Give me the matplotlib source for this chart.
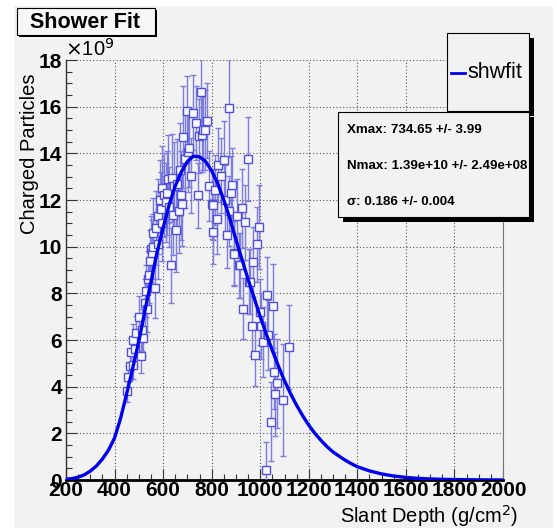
import matplotlib
matplotlib.use("Agg")
import matplotlib.pyplot as plt
from matplotlib.patches import Rectangle

# ── data ────────────────────────────────────────────────────────────────────
depth = [453, 457, 464, 467, 475, 478, 485, 490, 502, 508, 512, 519, 525, 530,
         535, 539, 543, 546, 550, 553, 557, 560, 567, 572, 577, 581, 586, 591,
         595, 597, 604, 610, 615, 620, 626, 631, 636, 640, 645, 654, 657, 665,
         668, 675, 677, 683, 691, 700, 704, 707, 714, 722, 735, 743, 747, 757,
         762, 766, 774, 780, 791, 800, 805, 807, 814, 820, 827, 838, 849, 855,
         863, 871, 873, 880, 883, 890, 894, 904, 911, 918, 925, 931, 938, 948,
         952, 959, 965, 972, 977, 986, 993, 1000, 1005, 1012, 1023, 1028, 1034,
         1044, 1052, 1055, 1062, 1071, 1094, 1117]
particles = [3.8, 4.4, 4.9, 5.5, 4.95, 6.0, 5.6, 6.3, 7.0, 5.3, 6.45, 6.1, 7.6, 8.1,
             7.35, 8.6, 8.8, 9.4, 9.9, 9.75, 10.6, 10.0, 8.25, 10.8, 11.3, 10.1, 12.0, 11.6,
             11.0, 12.5, 12.2, 11.9, 12.3, 12.9, 11.7, 9.2, 12.95, 11.35, 12.6, 10.7, 12.7, 11.55,
             13.3, 12.2, 11.85, 14.7, 13.75, 15.8, 14.05, 14.25, 13.05, 15.75, 15.3, 12.2, 14.75, 16.65,
             14.8, 15.0, 15.0, 15.4, 12.6, 11.85, 11.8, 10.65, 12.45, 11.2, 13.5, 13.05, 13.7, 12.0,
             10.5, 11.55, 15.95, 12.3, 12.65, 9.75, 9.7, 11.3, 9.2, 9.2, 11.65, 7.35, 11.05, 13.75,
             8.5, 8.5, 6.6, 9.35, 5.35, 10.1, 10.85, 7.2, 6.6, 5.9, 0.45, 7.95, 6.2,
             2.5, 7.45, 4.65, 3.7, 4.15, 3.45, 5.7]
errors = [0.45, 0.5, 0.55, 0.6, 0.6, 0.7, 0.7, 0.75, 0.9, 0.7, 0.9, 0.8, 1.0, 1.1,
          1.0, 1.2, 1.2, 1.3, 1.4, 1.4, 1.5, 1.4, 1.3, 1.6, 1.6, 1.5, 1.7, 1.6,
          1.6, 1.8, 1.8, 1.7, 1.8, 1.9, 1.7, 1.6, 1.9, 1.7, 1.9, 1.8, 1.9, 1.8,
          2.0, 1.9, 1.8, 2.2, 2.1, 1.5, 1.7, 1.7, 1.6, 1.6, 1.6, 1.4, 1.6, 1.9,
          1.6, 1.7, 1.7, 1.6, 1.5, 1.5, 1.5, 1.4, 1.5, 1.5, 1.6, 1.6, 1.7, 1.5,
          1.4, 1.5, 2.1, 1.6, 1.6, 1.4, 1.4, 1.6, 1.4, 1.4, 1.7, 1.3, 1.6, 1.8,
          1.4, 1.4, 1.3, 1.5, 1.3, 1.6, 1.8, 1.4, 1.4, 1.5, 1.2, 1.6, 1.5,
          1.7, 1.8, 1.6, 1.8, 1.9, 2.4, 1.8]

fit_x = [200, 225, 250, 275, 300, 325, 350, 375, 400, 425, 450, 475, 500, 525,
         550, 575, 600, 625, 650, 675, 700, 725, 750, 775, 800, 825, 850, 875,
         900, 925, 950, 975, 1000, 1025, 1050, 1075, 1100, 1125, 1150, 1175,
         1200, 1225, 1250, 1275, 1300, 1325, 1350, 1375, 1400, 1450, 1500, 1550,
         1600, 1650, 1700, 1750, 1800, 1850, 1900, 1950, 2000]
fit_y = [0.03, 0.06, 0.12, 0.22, 0.38, 0.6, 0.9, 1.28, 1.8, 2.65, 3.7, 4.8, 5.95, 7.25,
         8.5, 9.75, 10.8, 11.8, 12.6, 13.2, 13.65, 13.88, 13.85, 13.65, 13.25, 12.7, 12.0, 11.2,
         10.3, 9.45, 8.6, 7.8, 7.0, 6.25, 5.55, 4.88, 4.25, 3.7, 3.2, 2.75,
         2.35, 2.0, 1.7, 1.43, 1.2, 1.02, 0.85, 0.7, 0.57, 0.39, 0.26, 0.17,
         0.11, 0.07, 0.045, 0.028, 0.018, 0.011, 0.007, 0.004, 0.003]

stats_lines = ["Xmax: 734.65 +/- 3.99",
               "Nmax: 1.39e+10 +/- 2.49e+08",
               "\u03c3: 0.186 +/- 0.004"]

W, H = 557, 528
plt.rcParams['font.family'] = ['Liberation Sans', 'DejaVu Sans']
BG = "#f2f2f2"

fig = plt.figure(figsize=(W / 100, H / 100), dpi=100, facecolor="white")

def fx(px):  return px / W
def fy(py):  return 1 - py / H

# canvas panel (behind everything)
fig.add_artist(Rectangle((fx(14), 0), fx(553) - fx(14), fy(6), transform=fig.transFigure,
                         facecolor=BG, edgecolor="none", zorder=-10))

ax = fig.add_axes([fx(66), fy(480), fx(503) - fx(66), fy(60) - fy(480)])
ax.set_facecolor(BG)

ax.errorbar(depth, particles, yerr=errors, fmt='s', ms=6, mfc="#f8f8ff", mec="#5050d8",
            mew=1.0, ecolor="#7c7ce2", elinewidth=1.0, capsize=2.5, capthick=1.0,
            zorder=3, clip_on=True)
ax.plot(fit_x, fit_y, color="#0000ee", lw=2.4, zorder=4, solid_capstyle='round',
        solid_joinstyle='round')

ax.set_xlim(200, 2000)
ax.set_ylim(0, 18)
ax.set_xticks(range(200, 2001, 200))
ax.set_xticks(range(200, 2001, 50), minor=True)
ax.set_yticks(range(0, 19, 2))
ax.set_yticks([v * 0.5 for v in range(37)], minor=True)
ax.tick_params(which='major', direction='in', length=8, width=0.8, color="#333333",
               labelsize=15, pad=3, top=False, right=False)
ax.tick_params(which='minor', direction='in', length=4, width=0.8, color="#333333",
               top=False, right=False)
for lab in ax.get_xticklabels() + ax.get_yticklabels():
    lab.set_fontweight('bold')
ax.tick_params(axis='x', pad=1)
ax.grid(True, which='major', color="#555555", linestyle=(0, (1, 2)), linewidth=0.8)
ax.set_axisbelow(True)

ax.spines['top'].set_visible(False)
ax.spines['right'].set_color("#777777")
ax.spines['right'].set_linewidth(0.8)
ax.spines['left'].set_color("#333333")
ax.spines['left'].set_linewidth(1.0)
ax.spines['bottom'].set_color("black")
ax.spines['bottom'].set_linewidth(2.0)

fig.text(fx(65), fy(49), r"$\times$10$^{9}$", fontsize=14.5, va='center', ha='left')
fig.text(fx(30), fy(74), "Charged Particles", rotation=90, fontsize=14.5,
         ha='center', va='top')
fig.text(fx(518), fy(516), r"Slant Depth (g/cm$^{2}$)", fontsize=14.5,
         ha='right', va='center')

def box(x0, y0, x1, y1, shadow, face):
    fig.add_artist(Rectangle((fx(x0 + shadow), fy(y1 + shadow)), fx(x1) - fx(x0),
                             fy(y0) - fy(y1), transform=fig.transFigure,
                             facecolor="black", edgecolor="none", zorder=5))
    fig.add_artist(Rectangle((fx(x0), fy(y1)), fx(x1) - fx(x0), fy(y0) - fy(y1),
                             transform=fig.transFigure, facecolor=face,
                             edgecolor="black", lw=0.8, zorder=6))

# title box
box(17, 8, 155, 35, 2, "#f7f7f7")
fig.text(fx(85), fy(22), "Shower Fit", fontsize=15.5, fontweight='bold',
         ha='center', va='center', zorder=7)

# legend box
box(447, 33, 529, 111, 5, BG)
fig.add_artist(plt.Line2D([fx(451), fx(465)], [fy(73), fy(73)], color="#0000ee", lw=2.0,
                          transform=fig.transFigure, zorder=7))
fig.text(fx(467), fy(73), "shwfit", fontsize=15.5, ha='left', va='center', zorder=7)

# stats box
box(338, 112, 529, 217, 5, BG)
for i, line in enumerate(stats_lines):
    fig.text(fx(347), fy(130 + 36 * i), line, fontsize=9.6, fontweight='bold',
             ha='left', va='center', zorder=7)

fig.savefig("out.png", dpi=100)
